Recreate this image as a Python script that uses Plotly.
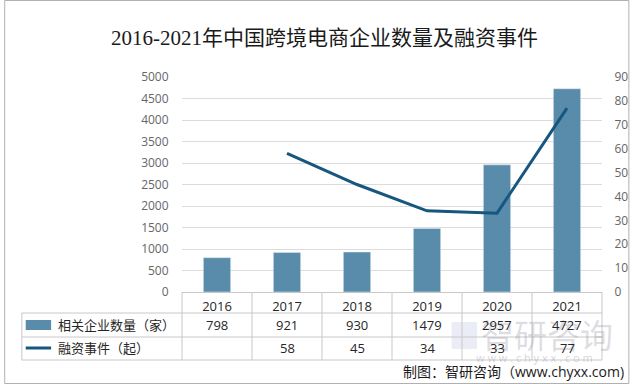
import plotly.graph_objects as go

years = ['2016', '2017', '2018', '2019', '2020', '2021']
companies = [798, 921, 930, 1479, 2957, 4727]
financing = [None, 58, 45, 34, 33, 77]
bar_name = '相关企业数量（家）'
line_name = '融资事件（起）'
title_text = '2016-2021年中国跨境电商企业数量及融资事件'
source_text = '制图：智研咨询（www.chyxx.com)'

W, H = 640, 384
L, R, T, B = 182, 612, 77, 292


def px(x):
    return (x - L) / (R - L)


def py(y):
    return (B - y) / (B - T)


BAR_COLOR = '#588caa'
LINE_COLOR = '#17567f'
GRID = '#dcdcdc'
TABLE_LINE = '#c8c8c8'
TXT = '#262626'
TICK = '#666666'
FONT = 'Open Sans, Noto Sans CJK SC, sans-serif'

fig = go.Figure()
fig.add_trace(go.Bar(x=years, y=companies, name=bar_name, marker_color=BAR_COLOR,
                     width=0.39, yaxis='y'))
fig.add_trace(go.Scatter(x=years, y=financing, name=line_name, mode='lines',
                         line=dict(color=LINE_COLOR, width=3), yaxis='y2',
                         connectgaps=False))

shapes = []
annotations = []

row_tops = [292, 313, 337, 360]
n = len(years)
for k in range(n + 1):
    shapes.append(dict(type='line', xref='paper', yref='paper',
                       x0=k / n, x1=k / n, y0=py(292), y1=py(360),
                       line=dict(color=TABLE_LINE, width=1)))
shapes.append(dict(type='line', xref='paper', yref='paper',
                   x0=px(18), x1=px(18), y0=py(313), y1=py(360),
                   line=dict(color=TABLE_LINE, width=1)))
for yy in row_tops[1:]:
    shapes.append(dict(type='line', xref='paper', yref='paper',
                       x0=px(18), x1=1, y0=py(yy), y1=py(yy),
                       line=dict(color=TABLE_LINE, width=1)))

shapes.append(dict(type='rect', xref='paper', yref='paper',
                   x0=px(22), x1=px(48), y0=py(320), y1=py(330),
                   fillcolor=BAR_COLOR, line=dict(width=0)))
shapes.append(dict(type='line', xref='paper', yref='paper',
                   x0=px(22), x1=px(48), y0=py(348), y1=py(348),
                   line=dict(color=LINE_COLOR, width=3)))

# watermark logo (faint)
shapes.append(dict(type='rect', xref='paper', yref='paper',
                   x0=px(458), x1=px(484), y0=py(322), y1=py(349),
                   fillcolor='rgba(170,185,215,0.25)', line=dict(width=0), layer='below'))

shapes.append(dict(type='rect', xref='paper', yref='paper',
                   x0=px(0.5), x1=px(639.5), y0=py(0.5), y1=py(383.5),
                   line=dict(color='#b0b0b0', width=1), fillcolor='rgba(0,0,0,0)'))

annotations.append(dict(xref='paper', yref='paper', x=px(53), y=py(325),
                        text=bar_name, showarrow=False, xanchor='left', yanchor='middle',
                        font=dict(size=13, color=TXT, family=FONT)))
annotations.append(dict(xref='paper', yref='paper', x=px(53), y=py(348),
                        text=line_name, showarrow=False, xanchor='left', yanchor='middle',
                        font=dict(size=13, color=TXT, family=FONT)))

annotations.append(dict(xref='paper', yref='paper', x=px(556), y=py(335),
                        text='智研咨询', showarrow=False, xanchor='center', yanchor='middle',
                        font=dict(size=33, color='rgba(150,150,165,0.33)', family=FONT)))
annotations.append(dict(xref='paper', yref='paper', x=px(543), y=py(357),
                        text='w w w . c h y x x . c o m', showarrow=False,
                        xanchor='center', yanchor='middle',
                        font=dict(size=11, color='rgba(150,150,165,0.4)', family=FONT)))

for i, v in enumerate(companies):
    annotations.append(dict(xref='x', yref='paper', x=i, y=py(325), text=str(v),
                            showarrow=False, yanchor='middle',
                            font=dict(size=13, color=TXT, family=FONT)))
for i, v in enumerate(financing):
    if v is None:
        continue
    annotations.append(dict(xref='x', yref='paper', x=i, y=py(348), text=str(v),
                            showarrow=False, yanchor='middle',
                            font=dict(size=13, color=TXT, family=FONT)))

annotations.append(dict(xref='paper', yref='paper', x=px(637), y=py(371),
                        text=source_text, showarrow=False, xanchor='right', yanchor='middle',
                        font=dict(size=14, color='#1a1a1a', family=FONT)))

annotations.append(dict(xref='paper', yref='paper', x=px(328), y=py(38),
                        text=title_text, showarrow=False, xanchor='center', yanchor='middle',
                        font=dict(size=21, color='#1a1a1a',
                                  family='Liberation Serif, Noto Sans CJK SC, serif')))

fig.update_layout(
    width=W, height=H,
    margin=dict(l=L, r=W - R, t=T, b=H - B, pad=0),
    paper_bgcolor='white', plot_bgcolor='white',
    showlegend=False,
    font=dict(family=FONT, color=TICK, size=12),
    xaxis=dict(type='category', range=[-0.5, 5.5], showgrid=False,
               showline=True, linecolor=TABLE_LINE, linewidth=1,
               ticks='outside', ticklen=2, tickcolor='rgba(0,0,0,0)',
               tickfont=dict(size=13, color=TXT), fixedrange=True),
    yaxis=dict(range=[0, 5000], dtick=500, showgrid=True, gridcolor=GRID, gridwidth=1,
               zeroline=False, showline=False, ticks='outside', ticklen=10,
               tickcolor='rgba(0,0,0,0)', tickfont=dict(size=12, color=TICK)),
    yaxis2=dict(range=[0, 90], dtick=10, overlaying='y', side='right', showgrid=False,
                zeroline=False, showline=False, ticks='outside', ticklen=9,
                tickcolor='rgba(0,0,0,0)', tickfont=dict(size=12, color=TICK)),
    shapes=shapes, annotations=annotations,
)

fig.write_html('out.html', config={'displayModeBar': False},
               post_script="document.body.style.margin='0';document.body.style.overflow='hidden';")
